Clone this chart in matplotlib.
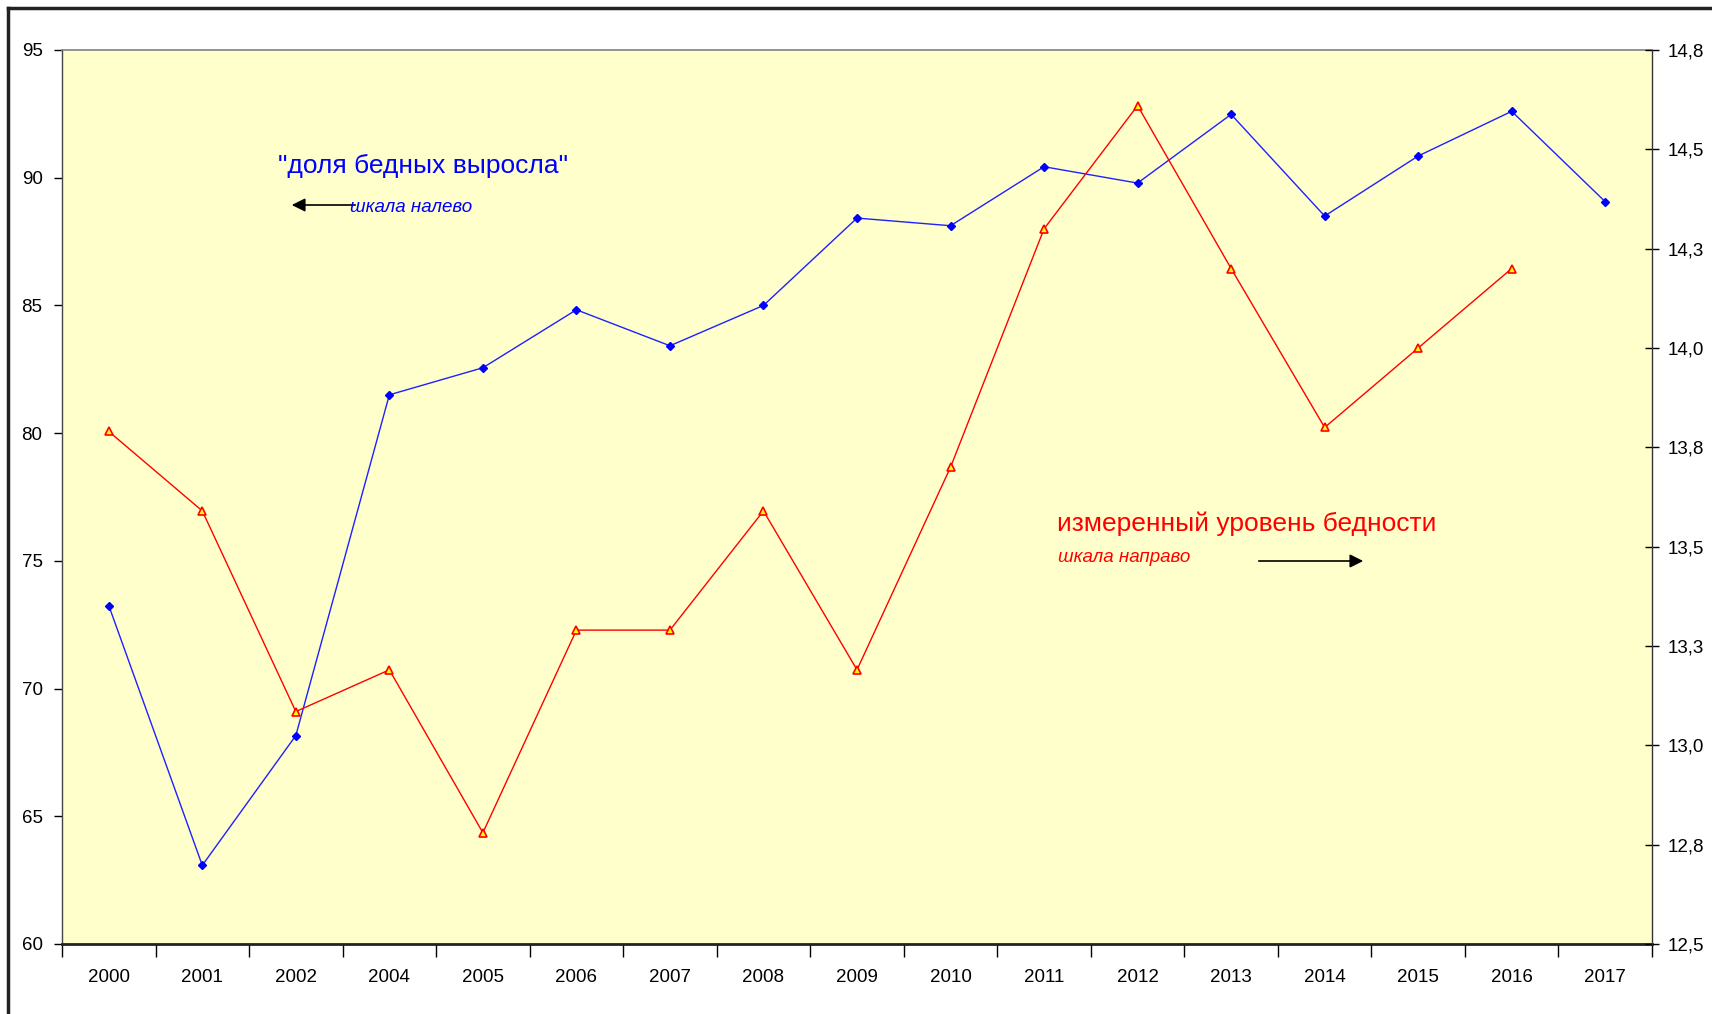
import matplotlib
matplotlib.use("Agg")
import matplotlib.pyplot as plt
from matplotlib.lines import Line2D
from matplotlib.ticker import FixedLocator, FixedFormatter

plt.rcParams['font.family'] = ['Liberation Sans', 'DejaVu Sans']
tick_size = 13.5

years = ["2000", "2001", "2002", "2004", "2005", "2006", "2007", "2008", "2009",
         "2010", "2011", "2012", "2013", "2014", "2015", "2016", "2017"]
share_poor = [73.25, 63.08, 68.16, 81.5, 82.56, 84.83, 83.42, 85.0, 88.42,
              88.12, 90.43, 89.79, 92.48, 88.5, 90.85, 92.6, 89.06]
poverty_level = [13.79, 13.59, 13.085, 13.19, 12.78, 13.29, 13.29, 13.59, 13.19,
                 13.70, 14.30, 14.61, 14.20, 13.80, 14.00, 14.20]
left_ticks = [60, 65, 70, 75, 80, 85, 90, 95]
right_ticks = [12.5, 12.75, 13.0, 13.25, 13.5, 13.75, 14.0, 14.25, 14.5, 14.75]
right_labels = ["12,5", "12,8", "13,0", "13,3", "13,5", "13,8", "14,0", "14,3", "14,5", "14,8"]

fig = plt.figure(figsize=(17.12, 10.14), dpi=100)
fig.patch.set_facecolor('white')
ax = fig.add_axes([62/1712, 1 - 944/1014, (1652 - 62)/1712, (944 - 50)/1014])
ax.set_facecolor('#FFFFCC')

n = len(years)
xs = list(range(n))
ax.plot(xs, share_poor, color='#2020FF', lw=1.0, marker='D', ms=4.5,
        markerfacecolor='#0000FF', markeredgecolor='#0000FF', zorder=3)
ax.set_xlim(-0.5, n - 0.5)
ax.set_ylim(60, 95)
ax.set_yticks(left_ticks)
ax.set_xticks([i - 0.5 for i in range(n + 1)], minor=False)
ax.set_xticklabels([])
ax.xaxis.set_minor_locator(FixedLocator(xs))
ax.xaxis.set_minor_formatter(FixedFormatter(years))
ax.tick_params(axis='x', which='major', direction='out', length=9, width=1, color='black')
ax.tick_params(axis='x', which='minor', length=0, pad=18, labelsize=tick_size)
ax.tick_params(axis='y', direction='out', length=6, width=1, labelsize=tick_size, pad=8)

ax.spines['top'].set_color('#808080')
ax.spines['top'].set_linewidth(1.2)
ax.spines['bottom'].set_linewidth(2.0)
ax.spines['bottom'].set_color('#222222')
ax.spines['left'].set_color('#444444')
ax.spines['left'].set_linewidth(1.0)
ax.spines['right'].set_visible(False)

ax2 = ax.twinx()
ax2.plot(xs[:len(poverty_level)], poverty_level, color='#FF0000', lw=1.0, marker='^', ms=6,
         markerfacecolor='#FFFF00', markeredgecolor='#FF0000', markeredgewidth=1.2, zorder=3)
ax2.set_ylim(12.5, 14.75)
ax2.set_yticks(right_ticks)
ax2.set_yticklabels(right_labels)
ax2.tick_params(axis='y', direction='inout', length=10, width=1, labelsize=tick_size, pad=6)
ax2.spines['right'].set_color('#333333')
ax2.spines['right'].set_linewidth(1.0)
for s in ['top', 'left', 'bottom']:
    ax2.spines[s].set_visible(False)

def fx(px):
    return px / 1712
def fy(py):
    return 1 - py / 1014

fig.text(fx(278), fy(166), '"доля бедных выросла"', color='#0000FF', fontsize=19,
         ha='left', va='center')
fig.text(fx(350), fy(207), 'шкала налево', color='#0000FF', fontsize=13.5,
         style='italic', ha='left', va='center')
fig.add_artist(matplotlib.patches.FancyArrowPatch((fx(358), fy(205)), (fx(289), fy(205)),
               transform=fig.transFigure, arrowstyle='-|>', mutation_scale=20,
               color='black', lw=1.2))

fig.text(fx(1057), fy(524), 'измеренный уровень бедности', color='#FF0000', fontsize=19,
         ha='left', va='center')
fig.text(fx(1058), fy(557), 'шкала направо', color='#FF0000', fontsize=13.5,
         style='italic', ha='left', va='center')
fig.add_artist(matplotlib.patches.FancyArrowPatch((fx(1256), fy(561)), (fx(1366), fy(561)),
               transform=fig.transFigure, arrowstyle='-|>', mutation_scale=20,
               color='black', lw=1.2))

fig.add_artist(Line2D([fx(8), 1.0], [fy(8), fy(8)], transform=fig.transFigure,
                      color='#222222', lw=2.5))
fig.add_artist(Line2D([fx(8), fx(8)], [fy(8), 0.0], transform=fig.transFigure,
                      color='#222222', lw=2.5))

fig.savefig('out.png', dpi=100)
